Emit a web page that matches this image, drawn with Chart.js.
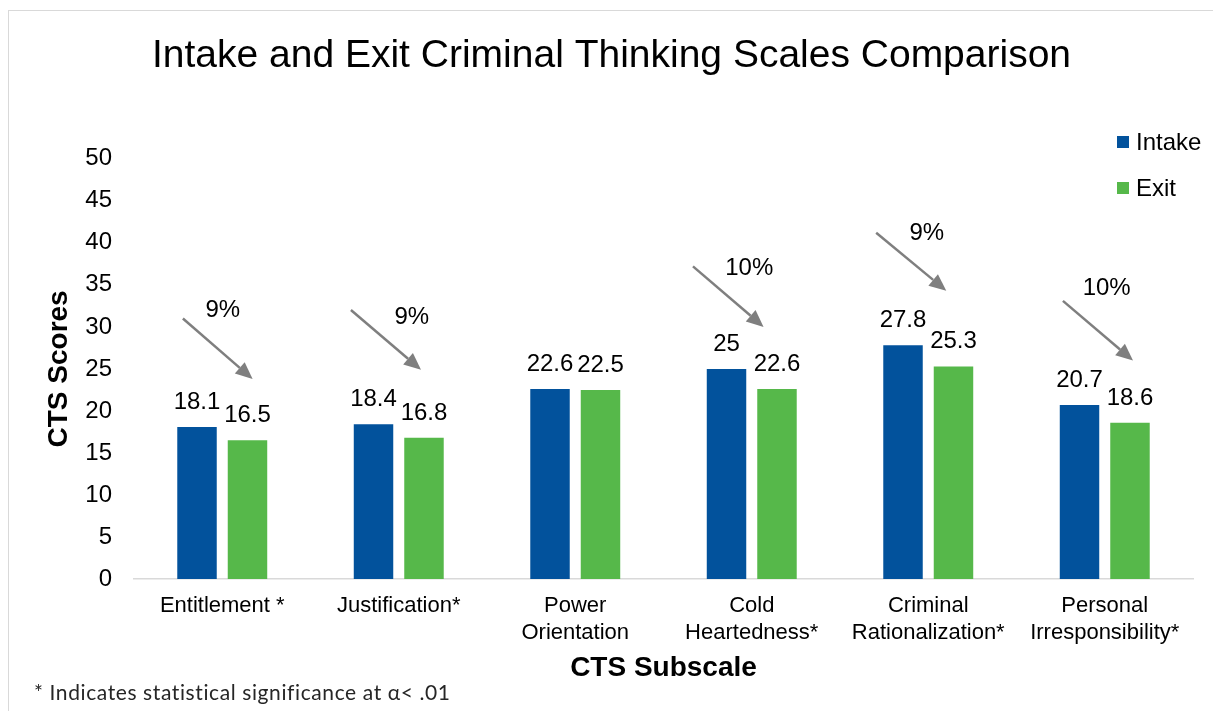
<!DOCTYPE html>
<html>
<head>
<meta charset="utf-8">
<script src="https://cdn.jsdelivr.net/npm/chart.js@4.4.1/dist/chart.umd.min.js"></script>
<style>
  html, body { margin: 0; padding: 0; background: #fff; overflow: hidden; }
  #wrap { position: relative; width: 1213px; height: 711px; }
  #frame { position: absolute; left: 8px; top: 10px; width: 1300px; height: 800px; border: 1.5px solid #d9d9d9; box-sizing: border-box; }
  #chart { position: absolute; left: 0; top: 0; }
  #legend { position: absolute; left: 1117px; top: 126px; font-family: 'Liberation Sans', Arial, sans-serif; font-size: 24px; color: #000; }
  #legend .row { display: flex; align-items: center; height: 32px; margin-bottom: 14px; }
  #legend .box { width: 12px; height: 12px; margin-right: 7px; }
  #note { position: absolute; left: 34px; top: 679px; font-family: Lato, 'Noto Sans', sans-serif; font-size: 21px; letter-spacing: 0.6px; color: #262626; white-space: nowrap; }
</style>
</head>
<body>
<div id="wrap">
  <div id="frame"></div>
  <canvas id="chart" width="1213" height="711"></canvas>
  <div id="legend"></div>
  <div id="note">* Indicates statistical significance at α&lt; .01</div>
</div>
<script>
// CTS subscales and mean scores
const subscales = [
  'Entitlement *',
  'Justification*',
  ['Power', 'Orientation'],
  ['Cold', 'Heartedness*'],
  ['Criminal', 'Rationalization*'],
  ['Personal', 'Irresponsibility*']
];
const intakeScores = [18.1, 18.4, 22.6, 25, 27.8, 20.7];
const exitScores = [16.5, 16.8, 22.5, 22.6, 25.3, 18.6];
const yTicks = [0, 5, 10, 15, 20, 25, 30, 35, 40, 45, 50];

// percent drop callouts (arrow tail / tip in category index and score units)
const changeLabels = ['9%', '9%', '', '10%', '9%', '10%'];
const labelX = [0.003, 1.074, null, 2.986, 3.992, 5.011];
const labelY = [32.0, 31.1, null, 37.0, 41.1, 34.6];
const arrowTailX = [-0.223, 0.729, null, 2.667, 3.705, 4.763];
const arrowTailY = [31.0, 32.0, null, 37.2, 41.2, 33.1];
const arrowTipX = [0.172, 1.126, null, 3.067, 4.102, 5.160];
const arrowTipY = [23.8, 24.9, null, 30.0, 34.3, 26.0];

const FONT = "'Liberation Sans', Arial, sans-serif";
Chart.defaults.font.family = FONT;
Chart.defaults.color = '#000';

const valueLabels = {
  id: 'valueLabels',
  afterDatasetsDraw(chart) {
    const ctx = chart.ctx;
    ctx.save();
    ctx.font = '24px ' + FONT;
    ctx.fillStyle = '#000';
    ctx.textAlign = 'center';
    ctx.textBaseline = 'alphabetic';
    chart.data.datasets.forEach((ds, di) => {
      chart.getDatasetMeta(di).data.forEach((bar, i) => {
        ctx.fillText(String(ds.data[i]), bar.x, bar.y - 18);
      });
    });
    ctx.restore();
  }
};

const dropArrows = {
  id: 'dropArrows',
  afterDatasetsDraw(chart) {
    const { ctx, scales: { x, y } } = chart;
    ctx.save();
    changeLabels.forEach((txt, i) => {
      if (!txt) return;
      const x0 = x.getPixelForValue(arrowTailX[i]), y0 = y.getPixelForValue(arrowTailY[i]);
      const x1 = x.getPixelForValue(arrowTipX[i]), y1 = y.getPixelForValue(arrowTipY[i]);
      const ang = Math.atan2(y1 - y0, x1 - x0);
      const headLen = 17, headW = 7.5;
      const bx = x1 - headLen * Math.cos(ang), by = y1 - headLen * Math.sin(ang);
      ctx.strokeStyle = '#7f7f7f';
      ctx.fillStyle = '#7f7f7f';
      ctx.lineWidth = 2.5;
      ctx.beginPath();
      ctx.moveTo(x0, y0);
      ctx.lineTo(bx, by);
      ctx.stroke();
      ctx.beginPath();
      ctx.moveTo(x1, y1);
      ctx.lineTo(bx + headW * Math.sin(ang), by - headW * Math.cos(ang));
      ctx.lineTo(bx - headW * Math.sin(ang), by + headW * Math.cos(ang));
      ctx.closePath();
      ctx.fill();

      ctx.font = '24px ' + FONT;
      ctx.fillStyle = '#000';
      ctx.textAlign = 'center';
      ctx.textBaseline = 'middle';
      ctx.fillText(txt, x.getPixelForValue(labelX[i]), y.getPixelForValue(labelY[i]));
    });
    ctx.restore();
  }
};

const chart = new Chart(document.getElementById('chart'), {
  type: 'bar',
  data: {
    labels: subscales,
    datasets: [
      { label: 'Intake', data: intakeScores, backgroundColor: '#02529c' },
      { label: 'Exit', data: exitScores, backgroundColor: '#56b84a' }
    ]
  },
  options: {
    responsive: false,
    animation: false,
    layout: { padding: { left: 30, right: 20, top: 0, bottom: 10 } },
    datasets: { bar: { categoryPercentage: 0.572, barPercentage: 0.782 } },
    plugins: {
      legend: { display: false },
      tooltip: { enabled: false },
      title: {
        display: true,
        text: 'Intake and Exit Criminal Thinking Scales Comparison',
        font: { size: 39, weight: 'normal' },
        color: '#000',
        padding: { top: 33, bottom: 79 }
      }
    },
    scales: {
      x: {
        grid: { display: false, drawTicks: false },
        border: { display: true, color: '#d9d9d9', width: 1.5 },
        ticks: { font: { size: 22 }, color: '#000', padding: 14, maxRotation: 0, autoSkip: false },
        title: { display: true, text: 'CTS Subscale', font: { size: 28, weight: 'bold' }, color: '#000', padding: { top: 0, bottom: 16 } },
        afterFit(scale) { scale.height = 122; }
      },
      y: {
        min: 0,
        max: 50,
        afterBuildTicks(scale) { scale.ticks = yTicks.map(v => ({ value: v })); },
        grid: { display: false, drawTicks: false },
        border: { display: false },
        ticks: { font: { size: 24 }, color: '#000', padding: 22 },
        title: { display: true, text: 'CTS Scores', font: { size: 28, weight: 'bold' }, color: '#000', padding: { top: 12, bottom: 0 } },
        afterFit(scale) { scale.width = 104; }
      }
    }
  },
  plugins: [valueLabels, dropArrows]
});

const legend = document.getElementById('legend');
chart.data.datasets.forEach(ds => {
  const row = document.createElement('div');
  row.className = 'row';
  row.innerHTML = '<span class="box" style="background:' + ds.backgroundColor + '"></span><span>' + ds.label + '</span>';
  legend.appendChild(row);
});
</script>
</body>
</html>
